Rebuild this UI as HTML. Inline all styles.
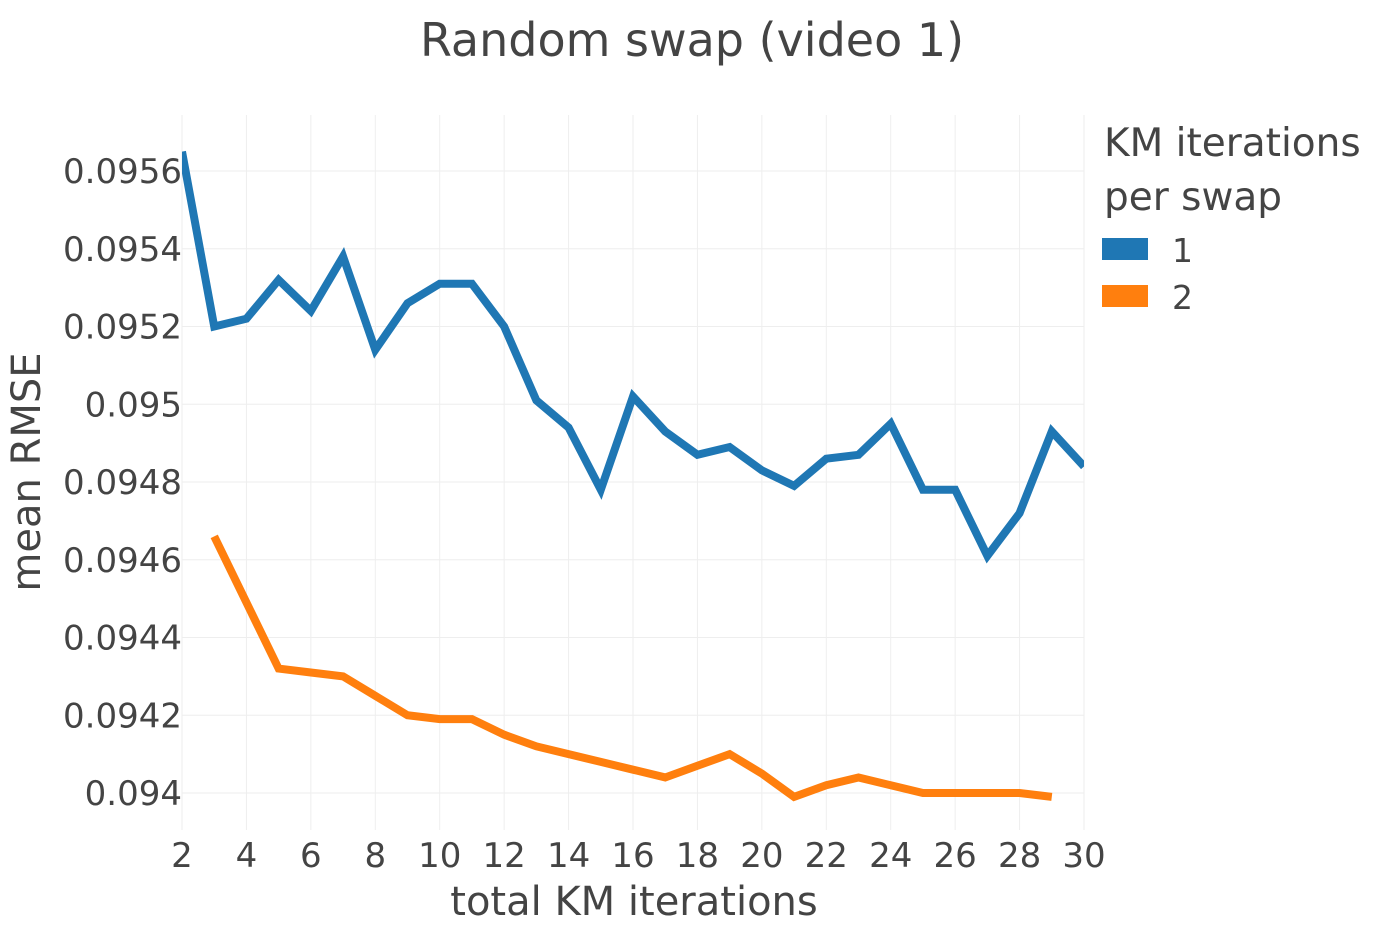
<!DOCTYPE html>
<html><head><meta charset="utf-8"><style>
body{margin:0;background:#fff;font-family:"Liberation Sans","DejaVu Sans",sans-serif;}
svg text{font-family:"DejaVu Sans","Liberation Sans",sans-serif;fill:#444;}
</style></head><body>
<svg id="chart" width="1388" height="922">
<text x="692" y="56" text-anchor="middle" font-size="46">Random swap (video 1)</text>
<g id="grid"></g>
<defs><clipPath id="clip"><rect x="182" y="110" width="902" height="730"/></clipPath></defs>
<g id="lines" clip-path="url(#clip)"></g>
<g id="xticks"></g><g id="yticks"></g>
<text x="634" y="915" text-anchor="middle" font-size="40">total KM iterations</text>
<text transform="translate(40,472) rotate(-90)" text-anchor="middle" font-size="40">mean RMSE</text>
<g>
<text x="1104" y="156" font-size="39">KM iterations</text>
<text x="1104" y="210" font-size="39">per swap</text>
<rect x="1102" y="238" width="46" height="22" fill="#1f77b4"/>
<text x="1172" y="262" font-size="33">1</text>
<rect x="1102" y="285" width="46" height="22" fill="#ff7f0e"/>
<text x="1172" y="309" font-size="33">2</text>
</g>
</svg>
<script>
const xsBlue=[2,3,4,5,6,7,8,9,10,11,12,13,14,15,16,17,18,19,20,21,22,23,24,25,26,27,28,29,30];
const blueVals=[0.09565,0.0952,0.09522,0.09532,0.09524,0.09538,0.09514,0.09526,0.09531,0.09531,0.0952,0.09501,0.09494,0.09478,0.09502,0.09493,0.09487,0.09489,0.09483,0.09479,0.09486,0.09487,0.09495,0.09478,0.09478,0.09461,0.09472,0.09493,0.09484];
const xsOrange=[3,4,5,6,7,8,9,10,11,12,13,14,15,16,17,18,19,20,21,22,23,24,25,26,27,28,29];
const orangeVals=[0.09466,0.09449,0.09432,0.09431,0.0943,0.09425,0.0942,0.09419,0.09419,0.09415,0.09412,0.0941,0.09408,0.09406,0.09404,0.09407,0.0941,0.09405,0.09399,0.09402,0.09404,0.09402,0.094,0.094,0.094,0.094,0.09399];
const xTicks=[2,4,6,8,10,12,14,16,18,20,22,24,26,28,30];
const yTicks=[0.094,0.0942,0.0944,0.0946,0.0948,0.095,0.0952,0.0954,0.0956];
const yTickLabels=["0.094","0.0942","0.0944","0.0946","0.0948","0.095","0.0952","0.0954","0.0956"];
const NS="http://www.w3.org/2000/svg";
const X=v=>182+(v-2)*902/28;
const Y=v=>793-(v-0.094)*622/0.0016;
function mk(t,a,p){const e=document.createElementNS(NS,t);for(const k in a)e.setAttribute(k,a[k]);p.appendChild(e);return e;}
const grid=document.getElementById('grid');
xTicks.forEach(t=>{
 const l=mk('line',{x1:X(t),x2:X(t),y1:115,y2:830,stroke:'#eee','stroke-width':1},grid);
 
 
 const tx=mk('text',{x:X(t),y:867,'text-anchor':'middle','font-size':34},document.getElementById('xticks'));
 tx.textContent=t;
 
 
});
yTicks.forEach((t,i)=>{
 const l=mk('line',{x1:182,x2:1084,y1:Y(t),y2:Y(t),stroke:'#eee','stroke-width':1},grid);
 
 
 const tx=mk('text',{x:182,y:Y(t)+12,'text-anchor':'end','font-size':34},document.getElementById('yticks'));
 tx.textContent=yTickLabels[i];
 
 
});
function line(xs,vs,c,name){
 const p=mk('polyline',{points:xs.map((x,i)=>X(x)+','+Y(vs[i])).join(' '),fill:'none',stroke:c,'stroke-width':8,'stroke-linejoin':'miter'},document.getElementById('lines'));
 
 
}
line(xsBlue,blueVals,'#1f77b4','series-1-line');
line(xsOrange,orangeVals,'#ff7f0e','series-2-line');
</script>
</body></html>
